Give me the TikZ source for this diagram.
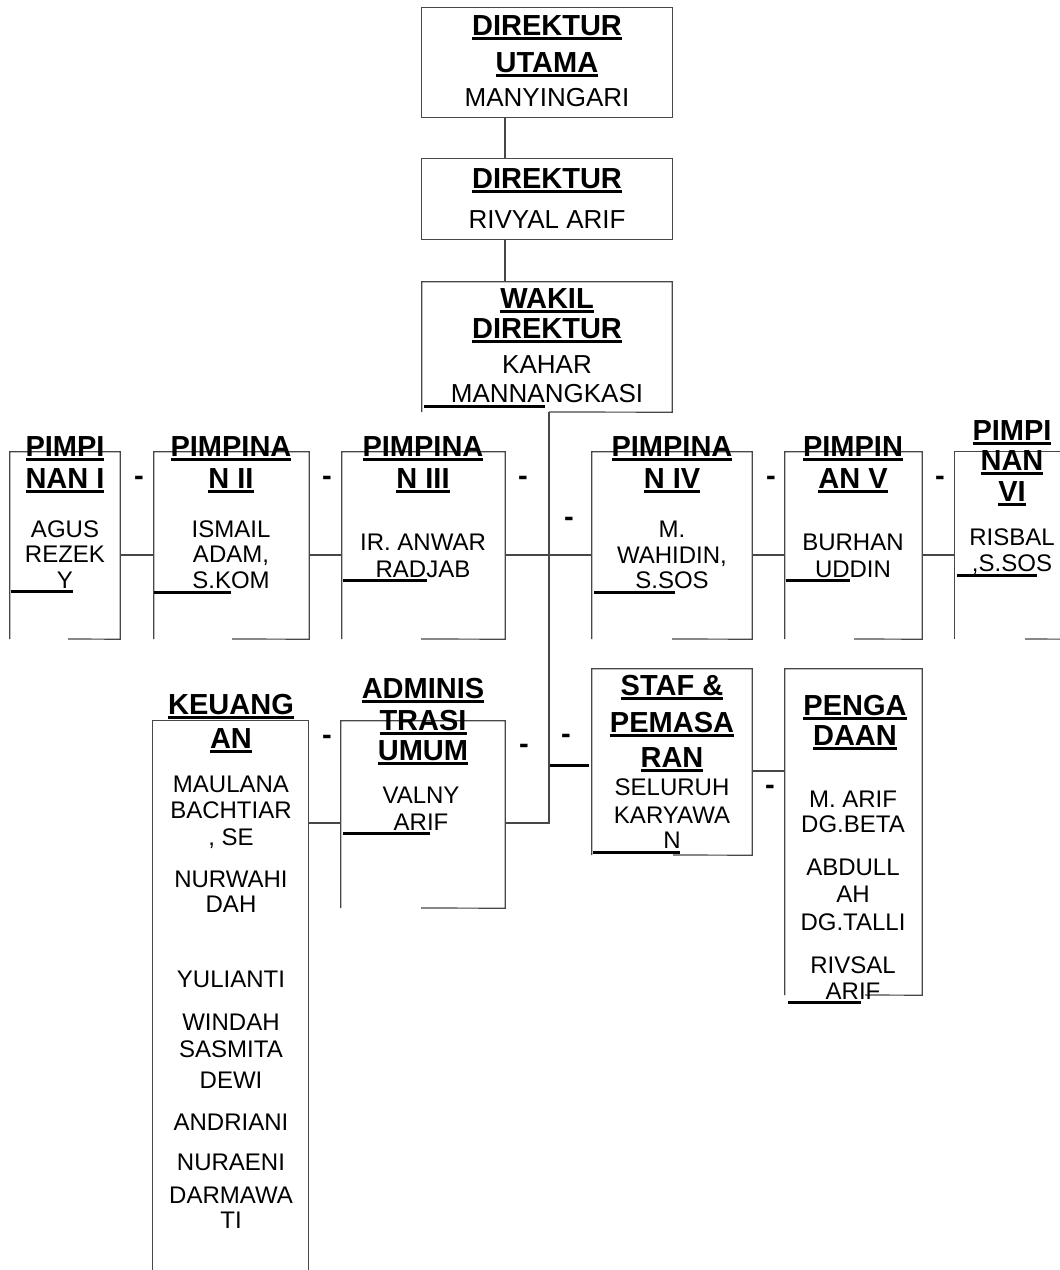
\documentclass[tikz,border=0pt]{standalone}
\usepackage{fontspec}
\setmainfont{Liberation Sans}
\usetikzlibrary{fit}
\newcommand\ulb[1]{\setbox0\hbox{#1}\leavevmode\rlap{\rule[-4.5pt]{\wd0}{3pt}}\box0}
\tikzset{
  ttl/.style={anchor=base, inner sep=0pt, font=\bfseries\fontsize{29}{29}\selectfont},
  nm/.style={anchor=base, inner sep=0pt, font=\fontsize{24}{24}\selectfont},
  nmb/.style={anchor=base, inner sep=0pt, font=\fontsize{26}{26}\selectfont},
  dsh/.style={anchor=base, inner sep=0pt, font=\bfseries\fontsize{29}{29}\selectfont},
  edge/.style={draw=black!72, line width=1.2pt},
  bar/.style={draw=black, line width=3pt},
  frame/.style={inner sep=0pt, draw=none}
}
\newcommand\T[4]{\node[ttl] (#1) at (#2,#3) {\ulb{#4}};}
\newcommand\N[4]{\node[nm] (#1) at (#2,#3) {#4};}
\newcommand\NB[4]{\node[nmb] (#1) at (#2,#3) {#4};}
\newcommand\BX[5]{\coordinate (#1nw) at (#2,#3); \coordinate (#1se) at (#4,#5); \node[frame, fit=(#1nw)(#1se)] (#1) {};}
\begin{document}
\begin{tikzpicture}[x=1pt,y=-1pt]
\useasboundingbox[fill=white] (0,0) rectangle (1060,1270);
% box frames
\BX{du}{422}{8}{672}{117}
\BX{dir}{422}{159}{672}{239}
\BX{wd}{422}{282}{672}{412}
\BX{pa}{10}{452}{120}{639}
\BX{pb}{154}{452}{309}{639}
\BX{pc}{342}{452}{505}{639}
\BX{pd}{592}{452}{752}{639}
\BX{pe}{785}{452}{922}{639}
\BX{pf}{955}{452}{1075}{639}
\BX{keu}{153}{721}{308}{1285}
\BX{adm}{341}{721}{505}{908}
\BX{staf}{592}{669}{752}{855}
\BX{peng}{785}{669}{922}{995}
% helper coordinates
\coordinate (cx) at (505,0);
\coordinate (spTop) at (549,412);
\coordinate (rowA) at (549,555);
\coordinate (rowB) at (549,823);
\coordinate (rowC) at (0,771);
% edges
\draw[edge] (du.south west) rectangle (du.north east);
\draw[edge] (dir.south west) rectangle (dir.north east);
\draw[edge] (wd.south west) -- (wd.north west) -- (wd.north east) -- (wd.south east) -- (spTop);
\draw[edge] (68,639) -- (pa.south east) -- (pa.north east) -- (pa.north west) -- (pa.south west);
\draw[edge] (232,639) -- (pb.south east) -- (pb.north east) -- (pb.north west) -- (pb.south west);
\draw[edge] (421,639) -- (pc.south east) -- (pc.north east) -- (pc.north west) -- (pc.south west);
\draw[edge] (672,639) -- (pd.south east) -- (pd.north east) -- (pd.north west) -- (pd.south west);
\draw[edge] (854,639) -- (pe.south east) -- (pe.north east) -- (pe.north west) -- (pe.south west);
\draw[edge] (1025,639) -- (pf.south east);
\draw[edge] (pf.north east) -- (pf.north west) -- (pf.south west);
\draw[edge] (keu.south west) -- (keu.north west) -- (keu.north east) -- (keu.south east);
\draw[edge] (421,908) -- (adm.south east) -- (adm.north east) -- (adm.north west) -- (adm.south west);
\draw[edge] (673,855) -- (staf.south east) -- (staf.north east) -- (staf.north west) -- (staf.south west);
\draw[edge] (865,995) -- (peng.south east) -- (peng.north east) -- (peng.north west) -- (peng.south west);
% connectors
\draw[edge] (du.south -| cx) -- (dir.north -| cx);
\draw[edge] (dir.south -| cx) -- (wd.north -| cx);
\draw[edge] (spTop) -- (rowB) -- (adm.east |- rowB);
\draw[edge] (pa.east |- rowA) -- (pb.west |- rowA);
\draw[edge] (pb.east |- rowA) -- (pc.west |- rowA);
\draw[edge] (pc.east |- rowA) -- (rowA) -- (pd.west |- rowA);
\draw[edge] (pd.east |- rowA) -- (pe.west |- rowA);
\draw[edge] (pe.east |- rowA) -- (pf.west |- rowA);
\draw[edge] (keu.east |- rowB) -- (adm.west |- rowB);
\draw[edge] (staf.east |- rowC) -- (peng.west |- rowC);
% thick bars
\draw[bar] (424,406) -- (545,406);
\draw[bar] (11,591) -- (73,591);
\draw[bar] (154,592) -- (231,592);
\draw[bar] (343,580) -- (427,580);
\draw[bar] (594,592) -- (675,592);
\draw[bar] (786,580) -- (850,580);
\draw[bar] (957,575) -- (1037,575);
\draw[bar] (343,833) -- (430,833);
\draw[bar] (593,852) -- (680,852);
\draw[bar] (788,1002) -- (861,1002);
\draw[bar] (550,765) -- (589,765);
% dashes
\node[dsh] (d1) at (139,485) {-};
\node[dsh] (d2) at (327,485) {-};
\node[dsh] (d3) at (523,485) {-};
\node[dsh] (d4) at (569,526) {-};
\node[dsh] (d5) at (771,485) {-};
\node[dsh] (d6) at (940,485) {-};
\node[dsh] (d7) at (327,744) {-};
\node[dsh] (d8) at (524,753) {-};
\node[dsh] (d9) at (566,743) {-};
\node[dsh] (d10) at (770,794) {-};
% texts
\T{du1}{547}{35}{DIREKTUR}
\T{du2}{547}{72}{UTAMA}
\NB{du3}{547}{106}{MANYINGARI}
\T{dir1}{547}{188}{DIREKTUR}
\NB{dir2}{547}{228}{RIVYAL ARIF}
\T{wd1}{547}{308}{WAKIL}
\T{wd2}{547}{338}{DIREKTUR}
\NB{wd3}{547}{373}{KAHAR}
\NB{wd4}{547}{402}{MANNANGKASI}
\T{pa1}{65}{456}{PIMPI}
\T{pa2}{65}{488}{NAN I}
\N{pa3}{65}{537}{AGUS}
\N{pa4}{65}{562}{REZEK}
\N{pa5}{65}{588}{Y}
\T{pb1}{231}{456}{PIMPINA}
\T{pb2}{231}{488}{N II}
\N{pb3}{231}{537}{ISMAIL}
\N{pb4}{231}{562}{ADAM,}
\N{pb5}{231}{588}{S.KOM}
\T{pc1}{423}{456}{PIMPINA}
\T{pc2}{423}{488}{N III}
\N{pc3}{423}{550}{IR. ANWAR}
\N{pc4}{423}{577}{RADJAB}
\T{pd1}{672}{456}{PIMPINA}
\T{pd2}{672}{488}{N IV}
\N{pd3}{672}{537}{M.}
\N{pd4}{672}{563}{WAHIDIN,}
\N{pd5}{672}{588}{S.SOS}
\T{pe1}{853}{456}{PIMPIN}
\T{pe2}{853}{488}{AN V}
\N{pe3}{853}{550}{BURHAN}
\N{pe4}{853}{577}{UDDIN}
\T{pf1}{1012}{440}{PIMPI}
\T{pf2}{1012}{470}{NAN}
\T{pf3}{1012}{501}{VI}
\N{pf4}{1012}{545}{RISBAL}
\N{pf5}{1012}{571}{,S.SOS}
\T{keu1}{231}{714}{KEUANG}
\T{keu2}{231}{748}{AN}
\N{keu3}{231}{792}{MAULANA}
\N{keu4}{231}{818}{BACHTIAR}
\N{keu5}{231}{845}{, SE}
\N{keu6}{231}{887}{NURWAHI}
\N{keu7}{231}{912}{DAH}
\N{keu8}{231}{987}{YULIANTI}
\N{keu9}{231}{1030}{WINDAH}
\N{keu10}{231}{1057}{SASMITA}
\N{keu11}{231}{1088}{DEWI}
\N{keu12}{231}{1130}{ANDRIANI}
\N{keu13}{231}{1170}{NURAENI}
\N{keu14}{231}{1203}{DARMAWA}
\N{keu15}{231}{1228}{TI}
\T{adm1}{423}{698}{ADMINIS}
\T{adm2}{423}{730}{TRASI}
\T{adm3}{423}{760}{UMUM}
\N{adm4}{421}{803}{VALNY}
\N{adm5}{421}{830}{ARIF}
\T{staf1}{672}{695}{STAF \&}
\T{staf2}{672}{732}{PEMASA}
\T{staf3}{672}{767}{RAN}
\N{staf4}{672}{795}{SELURUH}
\N{staf5}{672}{823}{KARYAWA}
\N{staf6}{672}{848}{N}
\T{peng1}{855}{715}{PENGA}
\T{peng2}{855}{745}{DAAN}
\N{peng3}{853}{807}{M. ARIF}
\N{peng4}{853}{832}{DG.BETA}
\N{peng5}{853}{875}{ABDULL}
\N{peng6}{853}{902}{AH}
\N{peng7}{853}{930}{DG.TALLI}
\N{peng8}{853}{973}{RIVSAL}
\N{peng9}{853}{999}{ARIF}
\end{tikzpicture}
\end{document}
